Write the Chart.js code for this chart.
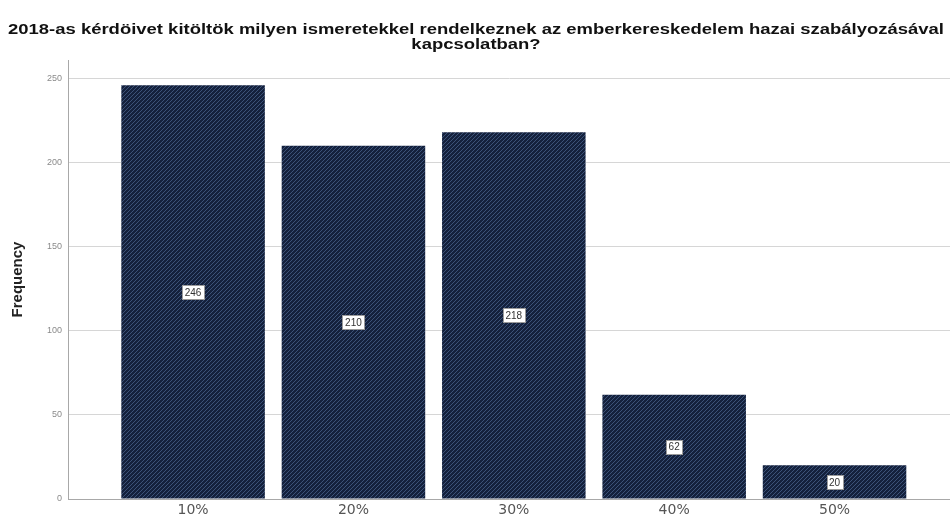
<!DOCTYPE html>
<html>
<head>
<meta charset="utf-8">
<script src="https://cdn.jsdelivr.net/npm/chart.js@4/dist/chart.umd.min.js"></script>
<style>
  html, body { margin: 0; padding: 0; background: #fff; }
  #wrap { width: 950px; height: 524px; }
</style>
</head>
<body>
<div id="wrap"><canvas id="freqChart"></canvas></div>
<script>
const categories = ["10%", "20%", "30%", "40%", "50%"];
const frequencies = [246, 210, 218, 62, 20];
const yTicks = [0, 50, 100, 150, 200, 250];
const titleLines = [
  "2018-as kérdöivet kitöltök milyen ismeretekkel rendelkeznek az emberkereskedelem hazai szabályozásával",
  "kapcsolatban?"
];

// dark navy fill with fine "/" hatching
function hatchPattern() {
  const size = 4;
  const c = document.createElement("canvas");
  c.width = size;
  c.height = size;
  const g = c.getContext("2d");
  g.fillStyle = "#14213d";
  g.fillRect(0, 0, size, size);
  g.strokeStyle = "#3c5278";
  g.lineWidth = 1;
  g.beginPath();
  g.moveTo(0, size);
  g.lineTo(size, 0);
  g.moveTo(-1, 1);
  g.lineTo(1, -1);
  g.moveTo(size - 1, size + 1);
  g.lineTo(size + 1, size - 1);
  g.stroke();
  return g.createPattern(c, "repeat");
}

// wide bold title, stretched horizontally to span the page
const wideTitle = {
  id: "wideTitle",
  afterDraw(chart) {
    const ctx = chart.ctx;
    ctx.save();
    ctx.font = "bold 15px 'Liberation Sans', Arial, sans-serif";
    ctx.fillStyle = "#111111";
    ctx.textAlign = "center";
    ctx.textBaseline = "middle";
    const sx = 936 / ctx.measureText(titleLines[0]).width;
    ctx.translate(476, 0);
    ctx.scale(sx, 1);
    ctx.fillText(titleLines[0], 0, 30);
    ctx.fillText(titleLines[1], 0, 45);
    ctx.restore();
  }
};

// white value boxes in the middle of each bar
const valueBoxes = {
  id: "valueBoxes",
  afterDatasetsDraw(chart) {
    const ctx = chart.ctx;
    const meta = chart.getDatasetMeta(0);
    ctx.save();
    ctx.font = "10px 'Liberation Sans', Arial, sans-serif";
    ctx.textAlign = "center";
    ctx.textBaseline = "middle";
    meta.data.forEach((bar, i) => {
      const text = String(frequencies[i]);
      const cx = bar.x;
      const cy = (bar.y + bar.base) / 2;
      const w = Math.round(ctx.measureText(text).width + 5);
      const h = 14;
      const x0 = Math.round(cx - w / 2);
      const y0 = Math.round(cy - h / 2);
      ctx.fillStyle = "#ffffff";
      ctx.fillRect(x0, y0, w, h);
      ctx.strokeStyle = "#9a9a9a";
      ctx.lineWidth = 1;
      ctx.strokeRect(x0 + 0.5, y0 + 0.5, w, h);
      ctx.fillStyle = "#333333";
      ctx.fillText(text, cx, cy + 1);
    });
    ctx.restore();
  }
};

new Chart(document.getElementById("freqChart"), {
  type: "bar",
  data: {
    datasets: [
      {
        label: "Frequency",
        data: frequencies.map((v, i) => ({ x: i, y: v })),
        backgroundColor: hatchPattern(),
        borderWidth: 0,
        barPercentage: 0.895,
        categoryPercentage: 1,
      },
    ],
  },
  options: {
    responsive: true,
    maintainAspectRatio: false,
    animation: false,
    layout: { padding: { left: 0, right: 0, top: 60, bottom: 0 } },
    plugins: {
      legend: { display: false },
      tooltip: { enabled: false },
      title: { display: false },
    },
    scales: {
      x: {
        type: "linear",
        offset: false,
        min: -0.78,
        max: 4.72,
        afterBuildTicks: (scale) => {
          scale.ticks = categories.map((_, i) => ({ value: i }));
        },
        afterFit: (scale) => {
          scale.height = 25;
        },
        ticks: {
          autoSkip: false,
          maxRotation: 0,
          padding: 3,
          color: "#555555",
          font: { family: "'DejaVu Sans', sans-serif", size: 14 },
          callback: (v) => categories[v],
        },
        grid: { display: false, drawTicks: false },
        border: { display: true, color: "#a8a8a8", width: 1 },
      },
      y: {
        min: 0,
        max: 261,
        afterBuildTicks: (scale) => {
          scale.ticks = yTicks.map((v) => ({ value: v }));
        },
        afterFit: (scale) => {
          scale.width = 68;
        },
        ticks: {
          padding: 6,
          color: "#8a8a8a",
          font: { family: "'Liberation Sans', Arial, sans-serif", size: 9 },
        },
        grid: { color: "#d6d6d6", drawTicks: false },
        border: { display: true, color: "#a8a8a8", width: 1 },
        title: {
          display: true,
          text: "Frequency",
          color: "#222222",
          padding: { top: 9, bottom: 0 },
          font: { family: "'Liberation Sans', Arial, sans-serif", size: 15, weight: "bold" },
        },
      },
    },
  },
  plugins: [valueBoxes, wideTitle],
});
</script>
</body>
</html>
